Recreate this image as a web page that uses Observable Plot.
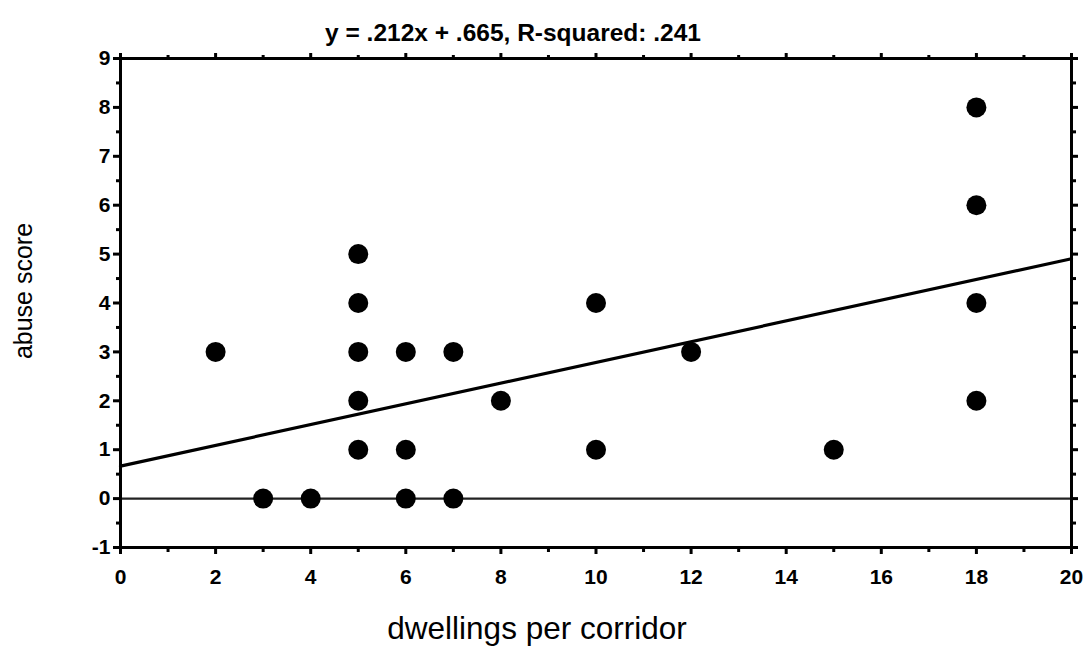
<!DOCTYPE html>
<html>
<head>
<meta charset="utf-8">
<script src="https://cdn.jsdelivr.net/npm/d3@7"></script>
<script src="https://cdn.jsdelivr.net/npm/@observablehq/plot@0.6"></script>
<style>
  body { margin: 0; background: #fff; }
  svg { font-family: "Liberation Sans", Arial, sans-serif; }
</style>
</head>
<body>
<div id="chart"></div>
<script>
// Data
const dwellings = [2, 3, 4, 5, 5, 5, 5, 5, 6, 6, 6, 7, 7, 8, 10, 10, 12, 15, 18, 18, 18, 18];
const abuse     = [3, 0, 0, 1, 2, 3, 4, 5, 0, 1, 3, 0, 3, 2, 1, 4, 3, 1, 2, 4, 6, 8];
const slope = 0.212;
const intercept = 0.665;
const fitX = [0, 20];
const titleText = "y = .212x + .665, R-squared: .241";
const xLabel = "dwellings per corridor";
const yLabel = "abuse score";
const xMajorTicks = [0, 2, 4, 6, 8, 10, 12, 14, 16, 18, 20];
const xMinorTicks = [1, 3, 5, 7, 9, 11, 13, 15, 17, 19];
const yMajorTicks = [-1, 0, 1, 2, 3, 4, 5, 6, 7, 8, 9];
const yMinorTicks = [-0.5, 0.5, 1.5, 2.5, 3.5, 4.5, 5.5, 6.5, 7.5, 8.5];

const points = dwellings.map((d, i) => ({x: d, y: abuse[i]}));
const fit = fitX.map(x => ({x, y: slope * x + intercept}));
const noLabel = () => "";

const chart = Plot.plot({
  width: 1084,
  height: 658,
  marginLeft: 120,
  marginRight: 13,
  marginTop: 58,
  marginBottom: 111,
  style: {fontFamily: "Liberation Sans, Arial, sans-serif", color: "#000", background: "#fff", fontSize: "21px"},
  x: {domain: [0, 20]},
  y: {domain: [-1, 9]},
  marks: [
    Plot.ruleY([0], {stroke: "#222", strokeWidth: 2.2}),
    Plot.line(fit, {x: "x", y: "y", stroke: "#000", strokeWidth: 3.2}),
    Plot.dot(points, {x: "x", y: "y", r: 10, fill: "#000", stroke: "none"}),
    Plot.frame({stroke: "#000", strokeWidth: 3}),
    // left axis
    Plot.axisY({anchor: "left", ticks: yMajorTicks, tickSize: 7, tickPadding: 3, strokeWidth: 3, strokeOpacity: 1, fontSize: 21, fontWeight: "bold", label: null, tickFormat: d => String(d)}),
    Plot.axisY({anchor: "left", ticks: yMinorTicks, tickSize: 4, strokeWidth: 3, strokeOpacity: 1, tickFormat: noLabel, label: null}),
    // right axis
    Plot.axisY({anchor: "right", ticks: yMajorTicks, tickSize: 6, strokeWidth: 3, strokeOpacity: 1, tickFormat: noLabel, label: null}),
    Plot.axisY({anchor: "right", ticks: yMinorTicks, tickSize: 4, strokeWidth: 3, strokeOpacity: 1, tickFormat: noLabel, label: null}),
    // bottom axis
    Plot.axisX({anchor: "bottom", ticks: xMajorTicks, tickSize: 7, tickPadding: 15, strokeWidth: 3, strokeOpacity: 1, fontSize: 21, fontWeight: "bold", label: null, tickFormat: d => String(d)}),
    Plot.axisX({anchor: "bottom", ticks: xMinorTicks, tickSize: 5, strokeWidth: 3, strokeOpacity: 1, tickFormat: noLabel, label: null}),
    // top axis
    Plot.axisX({anchor: "top", ticks: xMajorTicks, tickSize: 6, strokeWidth: 3, strokeOpacity: 1, tickFormat: noLabel, label: null}),
    Plot.axisX({anchor: "top", ticks: xMinorTicks, tickSize: 4, strokeWidth: 3, strokeOpacity: 1, tickFormat: noLabel, label: null}),
    // title and axis labels
    Plot.text([titleText], {frameAnchor: "top", text: d => d, dx: -83, dy: -35, fontSize: 24.5, fontWeight: "bold", fill: "#000"}),
    Plot.text([xLabel], {frameAnchor: "bottom", text: d => d, dx: -59, dy: 91, fontSize: 31.5, fill: "#000"}),
    Plot.text([yLabel], {frameAnchor: "left", text: d => d, rotate: -90, textAnchor: "middle", dx: -97, dy: -12, fontSize: 25, fill: "#000"})
  ]
});
document.getElementById("chart").appendChild(chart);
</script>
</body>
</html>
